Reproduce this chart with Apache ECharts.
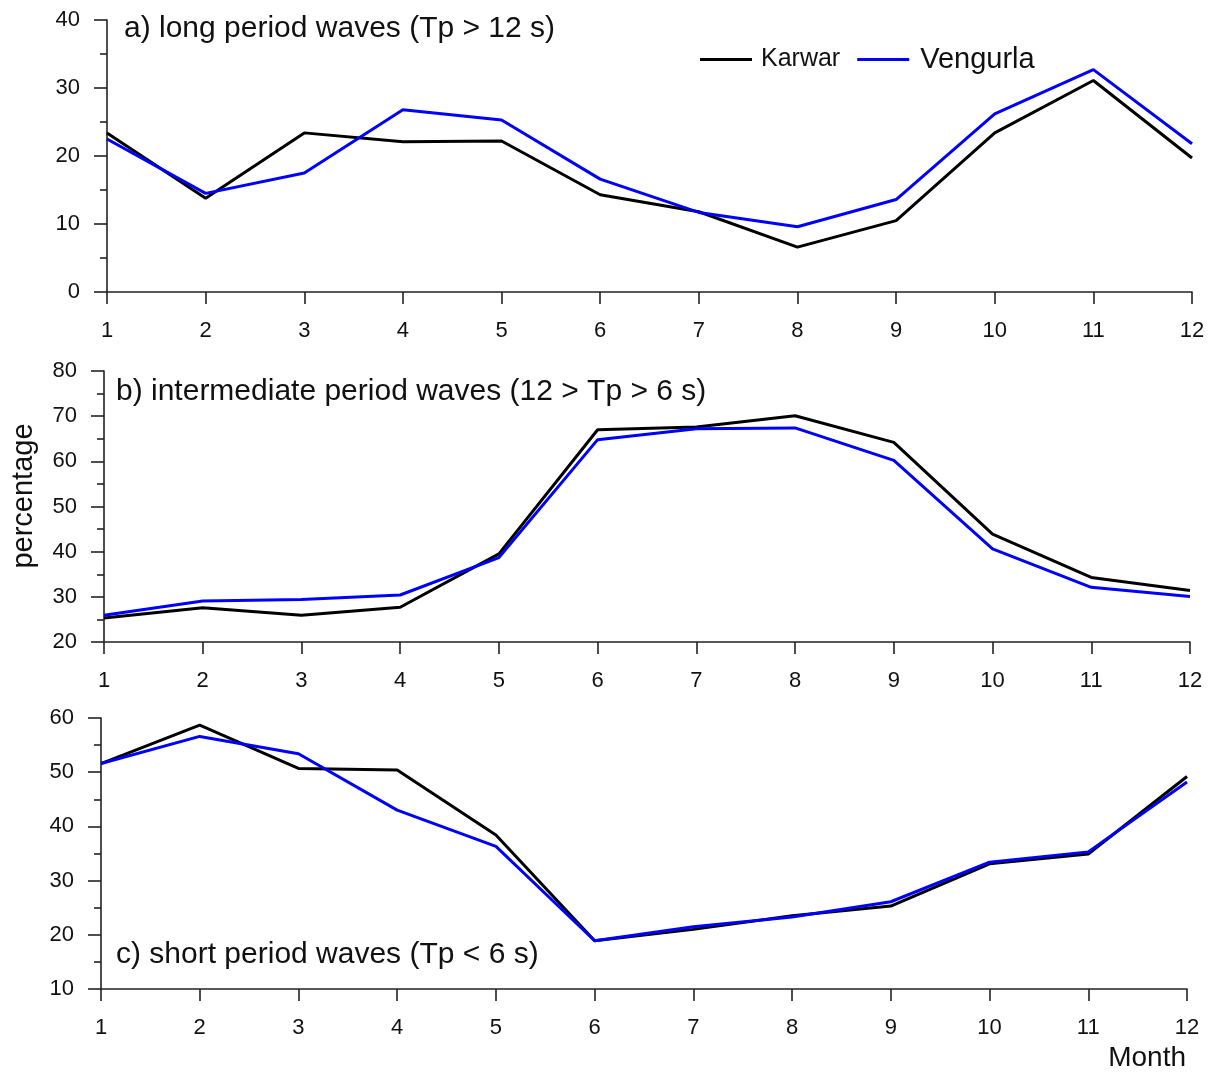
<!DOCTYPE html>
<html>
<head>
<meta charset="utf-8">
<title>Wave period percentages</title>
<script src="https://cdn.jsdelivr.net/npm/echarts@6/dist/echarts.min.js"></script>
<style>
  html, body { margin: 0; padding: 0; background: #fff; }
  #main { width: 1217px; height: 1075px; }
</style>
</head>
<body>
<div id="main"></div>
<script>
// months on the x axis
var months = [1, 2, 3, 4, 5, 6, 7, 8, 9, 10, 11, 12];

// a) long period waves (Tp > 12 s)
var karwarLong = [23.4, 13.8, 23.4, 22.1, 22.2, 14.3, 11.8, 6.6, 10.5, 23.4, 31.1, 19.7];
var vengurlaLong = [22.5, 14.5, 17.5, 26.8, 25.3, 16.6, 11.7, 9.6, 13.6, 26.2, 32.7, 21.8];

// b) intermediate period waves (12 > Tp > 6 s)
var karwarMid = [25.3, 27.6, 25.9, 27.7, 39.5, 67.0, 67.6, 70.1, 64.2, 43.9, 34.3, 31.4];
var vengurlaMid = [25.9, 29.1, 29.4, 30.4, 38.7, 64.8, 67.2, 67.4, 60.2, 40.6, 32.1, 30.1];

// c) short period waves (Tp < 6 s)
var karwarShort = [51.6, 58.7, 50.7, 50.4, 38.4, 18.9, 21.0, 23.5, 25.3, 33.1, 34.9, 49.2];
var vengurlaShort = [51.6, 56.6, 53.4, 43.0, 36.3, 18.9, 21.5, 23.3, 26.1, 33.4, 35.3, 48.2];

var panelTitles = [
    'a) long period waves (Tp > 12 s)',
    'b) intermediate period waves (12 > Tp > 6 s)',
    'c) short period waves (Tp < 6 s)'
];
var yRanges = [[0, 40], [20, 80], [10, 60]];

var FONT = '"Liberation Sans", Arial, sans-serif';
var AXIS_COLOR = '#222';

function pairs(values) {
    return months.map(function (m, i) { return [m, values[i]]; });
}

var myChart = echarts.init(document.getElementById('main'));

var grids = [
    { left: 107, top: 20, width: 1085, height: 272 },
    { left: 104, top: 371, width: 1086, height: 271 },
    { left: 101, top: 718, width: 1086, height: 271 }
];

var xAxes = [], yAxes = [], series = [], titles = [];
var sets = [[karwarLong, vengurlaLong], [karwarMid, vengurlaMid], [karwarShort, vengurlaShort]];
var titleTops = [14, 377, 940];

for (var i = 0; i < 3; i++) {
    xAxes.push({
        gridIndex: i,
        type: 'value',
        min: 1,
        max: 12,
        interval: 1,
        axisLine: { show: true, lineStyle: { color: AXIS_COLOR, width: 1.6 } },
        axisTick: { show: true, length: 12, lineStyle: { color: AXIS_COLOR, width: 1.6 } },
        axisLabel: { color: '#111', fontSize: 22, fontFamily: FONT, margin: 28 },
        splitLine: { show: false }
    });
    yAxes.push({
        gridIndex: i,
        type: 'value',
        min: yRanges[i][0],
        max: yRanges[i][1],
        interval: 10,
        axisLine: { show: true, lineStyle: { color: AXIS_COLOR, width: 1.6 } },
        axisTick: { show: true, length: 13, lineStyle: { color: AXIS_COLOR, width: 1.6 } },
        minorTick: { show: true, splitNumber: 2, length: 7, lineStyle: { color: AXIS_COLOR, width: 1.6 } },
        axisLabel: { color: '#111', fontSize: 22, fontFamily: FONT, margin: 27 },
        splitLine: { show: false }
    });
    series.push({
        name: 'Karwar',
        type: 'line',
        xAxisIndex: i,
        yAxisIndex: i,
        data: pairs(sets[i][0]),
        symbol: 'none',
        lineStyle: { color: '#000', width: 3 },
        itemStyle: { color: '#000' },
        z: 3
    });
    series.push({
        name: 'Vengurla',
        type: 'line',
        xAxisIndex: i,
        yAxisIndex: i,
        data: pairs(sets[i][1]),
        symbol: 'none',
        lineStyle: { color: '#0000ff', width: 3 },
        itemStyle: { color: '#0000ff' },
        z: 4
    });
    titles.push({
        text: panelTitles[i],
        left: i === 0 ? 124 : 116,
        top: titleTops[i],
        padding: 0,
        textStyle: { fontSize: 30, fontWeight: 'normal', color: '#111', fontFamily: FONT }
    });
}

var option = {
    backgroundColor: '#fff',
    animation: false,
    title: titles,
    grid: grids,
    xAxis: xAxes,
    yAxis: yAxes,
    legend: {
        left: 695,
        top: 40,
        icon: 'rect',
        itemWidth: 52,
        itemHeight: 3,
        itemGap: 17,
        data: [
            { name: 'Karwar', textStyle: { fontSize: 25, color: '#111', fontFamily: FONT, padding: [0, 0, 0, 4] } },
            { name: 'Vengurla', textStyle: { fontSize: 29, color: '#111', fontFamily: FONT, padding: [5, 0, 0, 6] } }
        ]
    },
    graphic: [
        {
            type: 'text',
            x: 24,
            y: 496,
            rotation: Math.PI / 2,
            style: {
                text: 'percentage',
                fontSize: 29,
                fontFamily: FONT,
                fill: '#111',
                align: 'center',
                verticalAlign: 'middle'
            }
        },
        {
            type: 'text',
            x: 1186,
            y: 1058,
            style: {
                text: 'Month',
                fontSize: 28,
                fontFamily: FONT,
                fill: '#111',
                align: 'right',
                verticalAlign: 'middle'
            }
        }
    ],
    series: series
};

myChart.setOption(option);
</script>
</body>
</html>
